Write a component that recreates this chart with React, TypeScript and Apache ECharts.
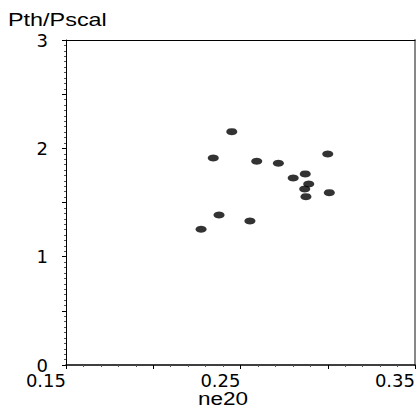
import React, { useEffect, useRef } from "react";
import * as echarts from "echarts";

const xTickLabels = ["0.15", "0.25", "0.35"];
const yTickLabels = ["0", "1", "2", "3"];
const ne20 = [0.245, 0.2344, 0.2593, 0.2717, 0.3, 0.2871, 0.2802, 0.2891, 0.2868, 0.2875, 0.3009, 0.2377, 0.2554, 0.2274];
const pthPscal = [2.154, 1.911, 1.881, 1.862, 1.948, 1.764, 1.727, 1.671, 1.625, 1.554, 1.591, 1.385, 1.33, 1.253];
const xName = "ne20";
const yName = "Pth/Pscal";

export default function App() {
  const ref = useRef<HTMLDivElement>(null);
  useEffect(() => {
    document.body.style.margin = "0";
    if (!ref.current) return;
    const chart = echarts.init(ref.current, null, { renderer: "svg" });
    const labelFont = { fontFamily: "DejaVu Sans", fontSize: 18, color: "#000" };
    chart.setOption({
      animation: false,
      backgroundColor: "#fff",
      grid: { left: 66, right: 3, top: 40, bottom: 43 },
      xAxis: [
        {
          type: "value",
          position: "bottom",
          min: 0.15,
          max: 0.35,
          interval: 0.05,
          axisLine: { show: true, onZero: false, lineStyle: { color: "#000", width: 1.5 } },
          axisTick: { show: true, length: 4, lineStyle: { color: "#000" } },
          minorTick: { show: true, splitNumber: 5, length: 2, lineStyle: { color: "#555" } },
          splitLine: { show: false },
          axisLabel: {
            ...labelFont,
            margin: 6,
            align: "right",
            showMinLabel: true,
            showMaxLabel: true,
            formatter: (v: number) => {
              const s = v.toFixed(2);
              return xTickLabels.includes(s) ? s : "";
            },
          },
        },
        {
          type: "value",
          position: "top",
          min: 0.15,
          max: 0.35,
          interval: 0.05,
          axisLine: { show: true, onZero: false, lineStyle: { color: "#000", width: 1 } },
          axisTick: { show: false },
          axisLabel: { show: false },
          splitLine: { show: false },
        },
      ],
      yAxis: [
        {
          type: "value",
          position: "left",
          min: 0,
          max: 3,
          interval: 0.5,
          axisLine: { show: true, onZero: false, lineStyle: { color: "#000", width: 1 } },
          axisTick: { show: true, length: 4, lineStyle: { color: "#000" } },
          minorTick: { show: true, splitNumber: 10, length: 2, lineStyle: { color: "#555" } },
          splitLine: { show: false },
          axisLabel: {
            ...labelFont,
            margin: 18,
            formatter: (v: number) => {
              const s = String(Math.round(v * 10) / 10);
              return yTickLabels.includes(s) ? s : "";
            },
          },
        },
        {
          type: "value",
          position: "right",
          min: 0,
          max: 3,
          interval: 0.5,
          axisLine: { show: true, onZero: false, lineStyle: { color: "#888", width: 2 } },
          axisTick: { show: false },
          axisLabel: { show: false },
          splitLine: { show: false },
        },
      ],
      graphic: [
        {
          type: "text",
          x: 8,
          y: 11,
          scaleX: 1.3,
          style: { text: yName, fontFamily: "Liberation Sans", fontSize: 18, fill: "#000" },
        },
        {
          type: "text",
          x: 198,
          y: 390,
          scaleX: 1.25,
          style: { text: xName, fontFamily: "Liberation Sans", fontSize: 18, fill: "#000" },
        },
      ],
      series: [
        {
          type: "scatter",
          symbol: "circle",
          symbolSize: [11, 7],
          itemStyle: { color: "#000" },
          data: ne20.map((x, i) => [x, pthPscal[i]]),
        },
      ],
    });
    return () => chart.dispose();
  }, []);
  return <div ref={ref} style={{ width: 418, height: 408 }} />;
}
